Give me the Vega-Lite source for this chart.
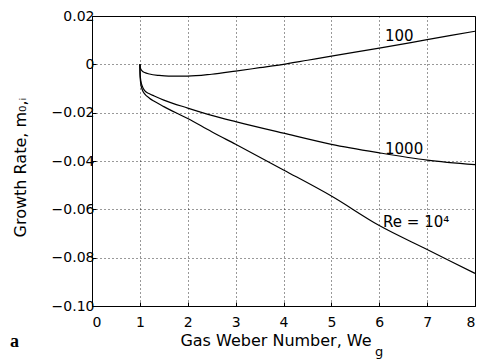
{
  "$schema": "https://vega.github.io/schema/vega-lite/v6.json",
  "width": 383,
  "height": 290,
  "autosize": "none",
  "padding": {"left": 92, "top": 16, "right": 4, "bottom": 53},
  "background": "white",
  "config": {
    "view": {"stroke": "black", "strokeWidth": 1},
    "font": "DejaVu Sans"
  },
  "datasets": {
    "curves": [
      {"Re": "100", "We": 1.0, "m": 0.0},
      {"Re": "100", "We": 1.01, "m": -0.0015},
      {"Re": "100", "We": 1.05, "m": -0.0028},
      {"Re": "100", "We": 1.1, "m": -0.0034},
      {"Re": "100", "We": 1.2, "m": -0.004},
      {"Re": "100", "We": 1.4, "m": -0.0046},
      {"Re": "100", "We": 1.6, "m": -0.0049},
      {"Re": "100", "We": 2.0, "m": -0.0049},
      {"Re": "100", "We": 2.5, "m": -0.0041},
      {"Re": "100", "We": 3.0, "m": -0.0028},
      {"Re": "100", "We": 3.5, "m": -0.0014},
      {"Re": "100", "We": 4.0, "m": 0.0},
      {"Re": "100", "We": 4.5, "m": 0.0017},
      {"Re": "100", "We": 5.0, "m": 0.0034},
      {"Re": "100", "We": 6.0, "m": 0.0067},
      {"Re": "100", "We": 7.0, "m": 0.0102},
      {"Re": "100", "We": 8.0, "m": 0.0137},
      {"Re": "1000", "We": 1.0, "m": 0.0},
      {"Re": "1000", "We": 1.005, "m": -0.004},
      {"Re": "1000", "We": 1.02, "m": -0.0068},
      {"Re": "1000", "We": 1.05, "m": -0.009},
      {"Re": "1000", "We": 1.1, "m": -0.0109},
      {"Re": "1000", "We": 1.2, "m": -0.0122},
      {"Re": "1000", "We": 1.3, "m": -0.0131},
      {"Re": "1000", "We": 1.5, "m": -0.0148},
      {"Re": "1000", "We": 2.0, "m": -0.0181},
      {"Re": "1000", "We": 2.5, "m": -0.0211},
      {"Re": "1000", "We": 3.0, "m": -0.0237},
      {"Re": "1000", "We": 4.0, "m": -0.0285},
      {"Re": "1000", "We": 5.0, "m": -0.0331},
      {"Re": "1000", "We": 6.0, "m": -0.0366},
      {"Re": "1000", "We": 7.0, "m": -0.0396},
      {"Re": "1000", "We": 8.0, "m": -0.0415},
      {"Re": "10000", "We": 1.0, "m": 0.0},
      {"Re": "10000", "We": 1.005, "m": -0.005},
      {"Re": "10000", "We": 1.02, "m": -0.0082},
      {"Re": "10000", "We": 1.05, "m": -0.0105},
      {"Re": "10000", "We": 1.1, "m": -0.0122},
      {"Re": "10000", "We": 1.2, "m": -0.014},
      {"Re": "10000", "We": 1.3, "m": -0.0153},
      {"Re": "10000", "We": 1.5, "m": -0.0175},
      {"Re": "10000", "We": 2.0, "m": -0.0224},
      {"Re": "10000", "We": 2.5, "m": -0.0279},
      {"Re": "10000", "We": 3.0, "m": -0.0331},
      {"Re": "10000", "We": 4.0, "m": -0.0437},
      {"Re": "10000", "We": 5.0, "m": -0.0545},
      {"Re": "10000", "We": 6.0, "m": -0.0667},
      {"Re": "10000", "We": 7.0, "m": -0.0766},
      {"Re": "10000", "We": 8.0, "m": -0.0865}
    ],
    "labels": [
      {"label": "100", "We": 6.12, "m": 0.0116},
      {"label": "1000", "We": 6.12, "m": -0.035},
      {"label": "Re = 10⁴", "We": 6.08, "m": -0.0651}
    ],
    "one": [{"k": 1}]
  },
  "layer": [
    {
      "data": {"name": "curves"},
      "mark": {"type": "line", "color": "black", "strokeWidth": 1.2, "interpolate": "monotone"},
      "encoding": {
        "x": {
          "field": "We", "type": "quantitative",
          "scale": {"domain": [0, 8], "nice": false},
          "axis": {
            "values": [0, 1, 2, 3, 4, 5, 6, 7, 8],
            "grid": true, "gridColor": "black", "gridDash": [1, 3], "gridOpacity": 0.8,
            "domainColor": "black", "tickColor": "black", "tickSize": -4,
            "labelFontSize": 14, "labelColor": "black", "labelPadding": 13,
            "title": "Gas Weber Number, We", "titleFontSize": 16, "titleFontWeight": "normal",
            "titleColor": "black", "titleX": 183.5, "titleY": 39, "titleBaseline": "alphabetic"
          }
        },
        "y": {
          "field": "m", "type": "quantitative",
          "scale": {"domain": [-0.1, 0.02], "nice": false},
          "axis": {
            "values": [-0.1, -0.08, -0.06, -0.04, -0.02, 0, 0.02],
            "labelExpr": "datum.value == 0 ? '0' : format(datum.value, '.2f')",
            "grid": true, "gridColor": "black", "gridDash": [1, 3], "gridOpacity": 0.8,
            "domainColor": "black", "tickColor": "black", "tickSize": -4,
            "labelFontSize": 14, "labelColor": "black", "labelPadding": 2,
            "title": "Growth Rate, m₀,ᵢ", "titleFontSize": 16, "titleFontWeight": "normal",
            "titleColor": "black", "titleX": -67, "titleY": 151, "titleBaseline": "alphabetic"
          }
        },
        "detail": {"field": "Re"}
      }
    },
    {
      "data": {"name": "labels"},
      "mark": {"type": "text", "align": "left", "baseline": "middle", "fontSize": 15, "color": "black"},
      "encoding": {
        "x": {"field": "We", "type": "quantitative"},
        "y": {"field": "m", "type": "quantitative"},
        "text": {"field": "label"}
      }
    },
    {
      "data": {"name": "one"},
      "mark": {"type": "text", "text": "g", "align": "left", "baseline": "alphabetic", "fontSize": 13, "color": "black", "dy": 50},
      "encoding": {"x": {"datum": 5.91}, "y": {"datum": -0.1}}
    },
    {
      "data": {"name": "one"},
      "mark": {"type": "text", "text": "a", "font": "Liberation Serif", "fontWeight": "bold", "fontSize": 18, "align": "left", "baseline": "alphabetic", "color": "black", "dx": -82, "dy": 41},
      "encoding": {"x": {"datum": 0}, "y": {"datum": -0.1}}
    }
  ]
}
